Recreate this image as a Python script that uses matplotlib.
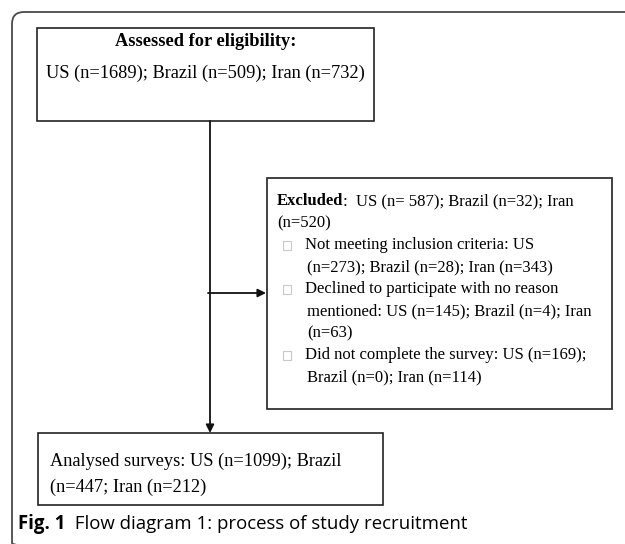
import matplotlib
matplotlib.use("Agg")
import matplotlib.pyplot as plt
from matplotlib.patches import FancyBboxPatch, Rectangle

# ---- data ----
countries = ["US", "Brazil", "Iran"]
assessed = [1689, 509, 732]
excluded = [587, 32, 520]
not_meeting = [273, 28, 343]
declined = [145, 4, 63]
not_complete = [169, 0, 114]
analysed = [1099, 447, 212]

title_assessed = "Assessed for eligibility:"
line_assessed = "US (n={}); Brazil (n={}); Iran (n={})".format(*assessed)

excl_head = "Excluded"
excl_first = ":  US (n= {}); Brazil (n={}); Iran".format(excluded[0], excluded[1])
excl_lines = [
    ("", "(n={})".format(excluded[2])),
    ("box", "Not meeting inclusion criteria: US"),
    ("", "(n={}); Brazil (n={}); Iran (n={})".format(*not_meeting)),
    ("box", "Declined to participate with no reason"),
    ("", "mentioned: US (n={}); Brazil (n={}); Iran".format(declined[0], declined[1])),
    ("", "(n={})".format(declined[2])),
    ("box", "Did not complete the survey: US (n={});".format(not_complete[0])),
    ("", "Brazil (n={}); Iran (n={})".format(not_complete[1], not_complete[2])),
]
analysed_lines = [
    "Analysed surveys: US (n={}); Brazil".format(analysed[0]),
    "(n={}; Iran (n={})".format(analysed[1], analysed[2]),
]
cap_bold = "Fig. 1"
cap_text = "  Flow diagram 1: process of study recruitment"

# ---- figure ----
fig = plt.figure(figsize=(6.25, 5.44), dpi=100)
ax = fig.add_axes([0, 0, 1, 1])
ax.set_xlim(0, 625)
ax.set_ylim(544, 0)
ax.axis("off")

serif = "Liberation Serif"
fs_main = 13.2
fs_excl = 12.0

# outer rounded frame (clipped by figure)
frame = FancyBboxPatch((12, 12), 640, 543, boxstyle="round,pad=0,rounding_size=12",
                       fill=False, ec="#4a4a4a", lw=1.3, clip_on=False)
ax.add_patch(frame)

# top box
ax.add_patch(Rectangle((37, 28), 337, 93, fill=False, ec="#222222", lw=1.2))
ax.text(205.5, 41, title_assessed, fontfamily=serif, fontweight="bold", fontsize=fs_main,
        ha="center", va="center")
ax.text(205.5, 73, line_assessed, fontfamily=serif, fontsize=fs_main, ha="center", va="center")

# excluded box
ax.add_patch(Rectangle((267, 178), 345, 231, fill=False, ec="#333333", lw=1.3))
y0 = 201
dy = 22.0
t1 = ax.text(277, y0, excl_head, fontfamily=serif, fontweight="bold", fontsize=fs_excl,
             ha="left", va="center")
ax.annotate(excl_first, xy=(1, y0), xycoords=(t1, "data"), fontfamily=serif,
            fontsize=fs_excl, ha="left", va="center")
for i, (kind, s) in enumerate(excl_lines):
    y = y0 + dy * (i + 1)
    if kind == "box":
        ax.add_patch(Rectangle((282.5, y - 4.5), 8, 9, fill=False, ec="#c8c8c8", lw=0.8))
        ax.text(305, y, s, fontfamily=serif, fontsize=fs_excl, ha="left", va="center")
    else:
        x = 277 if i == 0 else 307
        ax.text(x, y, s, fontfamily=serif, fontsize=fs_excl, ha="left", va="center")

# bottom box
ax.add_patch(Rectangle((38, 433), 345, 72, fill=False, ec="#222222", lw=1.2))
ax.text(50, 461, analysed_lines[0], fontfamily=serif, fontsize=fs_main, ha="left", va="center")
ax.text(50, 487, analysed_lines[1], fontfamily=serif, fontsize=fs_main, ha="left", va="center")

# arrows
ax.annotate("", xy=(210, 433), xytext=(210, 121),
            arrowprops=dict(arrowstyle="-|>", color="#111111", lw=1.3,
                            mutation_scale=12, shrinkA=0, shrinkB=0))
ax.annotate("", xy=(266, 293), xytext=(208, 293),
            arrowprops=dict(arrowstyle="-|>", color="#111111", lw=1.3,
                            mutation_scale=12, shrinkA=0, shrinkB=0))

# caption
c1 = ax.text(18, 524, cap_bold, fontfamily="Open Sans", fontweight="bold", fontsize=13.4,
             ha="left", va="center")
ax.annotate(cap_text, xy=(1, 524), xycoords=(c1, "data"), fontfamily="Open Sans",
            fontsize=13.4, ha="left", va="center")

fig.savefig("out.png", dpi=100)
